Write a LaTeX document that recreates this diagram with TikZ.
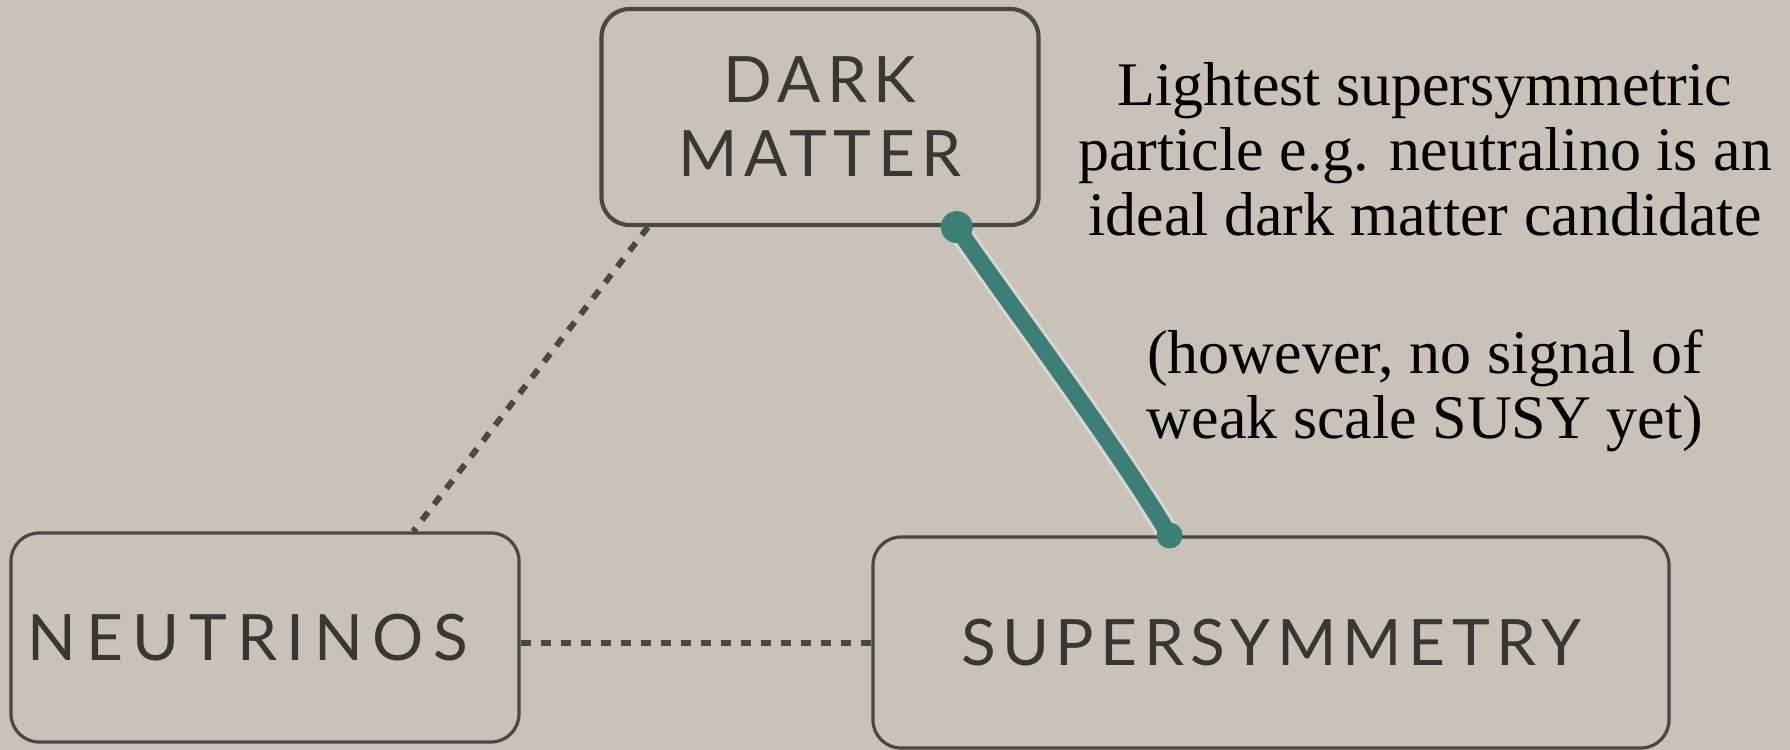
\documentclass[tikz,border=0pt]{standalone}
\usepackage{fontspec}
\setmainfont{Liberation Serif}
\newfontfamily\labfont[LetterSpace=10]{Lato}
\newfontfamily\labfontwide[LetterSpace=15]{Lato}
\usetikzlibrary{calc}
\definecolor{bg}{HTML}{C9C2B8}
\definecolor{boxline}{HTML}{4A4744}
\definecolor{labtext}{HTML}{3A3633}
\definecolor{tealline}{HTML}{3B7F76}
\begin{document}
\begin{tikzpicture}[x=0.5pt,y=-0.5pt,
  box/.style={draw=boxline, line width=1.6pt, rounded corners=14pt, inner sep=0pt,
    align=center, text=labtext, font=\labfont\fontsize{32}{37}\selectfont},
  dotline/.style={draw=boxline, line width=3pt, dash pattern=on 5pt off 5pt},
  note/.style={align=center, text=black, font=\fontsize{31}{32.5}\selectfont},
  tealpath/.style={draw=tealline, line width=8.5pt, line cap=round},
  glowpath/.style={draw=white, opacity=0.35, line width=11.5pt, line cap=round}]
\fill[bg] (0,0) rectangle (1790,750);
\useasboundingbox (0,0) rectangle (1790,750);

\node[box, line width=2.1pt, minimum width=218.5pt, minimum height=108pt] (dm) at (820,117) {DARK\\MATTER};
\node[box, minimum width=254pt, minimum height=104.5pt,
  font=\labfontwide\fontsize{32}{37}\selectfont] (nu) at (265,637.5) {NEUTRINOS\hspace*{17pt}};
\node[box, minimum width=398pt, minimum height=105.5pt] (su) at (1271,642.5) {SUPERSYMMETRY};

\coordinate (dmA) at ($(dm.south west)!0.11!(dm.south east)$);
\coordinate (nuA) at ($(nu.north west)!0.79!(nu.north east)$);
\draw[dotline] (dmA) -- (nuA);
\draw[dotline] (nu.east |- su.west) -- (su.west);

\coordinate (dmB) at ($(dm.south west)!0.81!(dm.south east)$);
\coordinate (suB) at ($(su.north west)!0.373!(su.north east)$);
\draw[glowpath] (dmB) .. controls ($(dmB)+(40,60)$) and ($(suB)+(-60,-100)$) .. (suB);
\draw[tealpath] (dmB) .. controls ($(dmB)+(40,60)$) and ($(suB)+(-60,-100)$) .. (suB);
\fill[tealline] (dmB) circle (8pt);
\fill[tealline] (suB) circle (6.5pt);

\node[note] (n1) at (1425,149) {Lightest supersymmetric\\particle e.g. neutralino is an\\ideal dark matter candidate};
\node[note] (n2) at (1425,391) {(however, no signal of\\weak scale SUSY yet)};
\end{tikzpicture}
\end{document}
